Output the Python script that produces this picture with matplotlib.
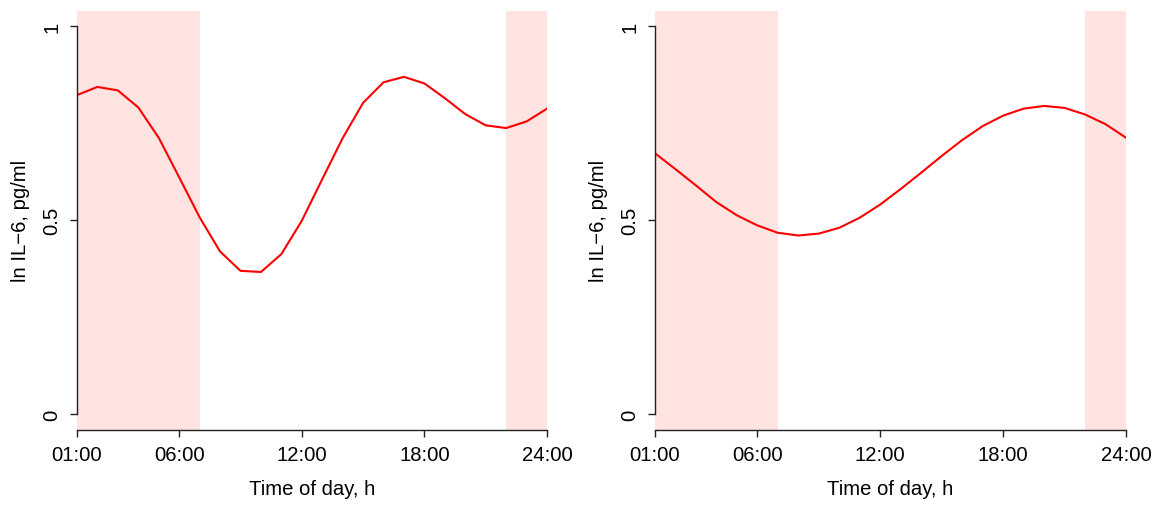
import numpy as np
import matplotlib
matplotlib.use("Agg")
import matplotlib.pyplot as plt

plt.rcParams['font.family'] = ['Liberation Sans', 'DejaVu Sans']

hours = np.arange(1, 25)

# ln IL-6 profile, panel 1
il6_left = [0.822, 0.843, 0.834, 0.790, 0.712, 0.610, 0.507, 0.419, 0.369, 0.366,
            0.412, 0.498, 0.605, 0.711, 0.802, 0.855, 0.869, 0.852, 0.814, 0.773,
            0.744, 0.737, 0.754, 0.787]
# ln IL-6 profile, panel 2
il6_right = [0.672, 0.631, 0.589, 0.546, 0.512, 0.486, 0.467, 0.460, 0.465, 0.480,
             0.506, 0.540, 0.580, 0.622, 0.665, 0.706, 0.742, 0.769, 0.787, 0.794,
             0.789, 0.772, 0.747, 0.712]

night_spans = [(1, 7), (22, 24)]
x_ticks = [1, 6, 12, 18, 24]
x_labels = ["01:00", "06:00", "12:00", "18:00", "24:00"]
y_ticks = [0, 0.5, 1]
y_labels = ["0", "0.5", "1"]

fig = plt.figure(figsize=(11.58, 5.06), dpi=100)
W, H = 1158.0, 506.0

def r_panel(rect, vals):
    ax = fig.add_axes(rect)
    for a, b in night_spans:
        ax.axvspan(a, b, color='#ffe4e1', lw=0, zorder=0)
    ax.plot(hours, vals, color='red', lw=1.5, zorder=2)
    ax.set_xlim(1, 24)
    ax.set_ylim(-0.04, 1.04)
    ax.spines['top'].set_visible(False)
    ax.spines['right'].set_visible(False)
    ax.spines['left'].set_bounds(0, 1)
    ax.spines['bottom'].set_bounds(1, 24)
    for s in ('left', 'bottom'):
        ax.spines[s].set_color('#222222')
        ax.spines[s].set_linewidth(1.0)
    ax.set_xticks(x_ticks)
    ax.set_xticklabels(x_labels)
    ax.set_yticks(y_ticks)
    ax.set_yticklabels(y_labels, rotation=90, va='center')
    ax.tick_params(direction='out', length=5, width=1.0, color='#222222',
                   labelsize=14.6)
    ax.tick_params(axis='x', pad=6.5)
    ax.tick_params(axis='y', pad=6)
    ax.set_xlabel("Time of day, h", fontsize=14.6, labelpad=10.5)
    ax.set_ylabel("ln IL\u22126, pg/ml", fontsize=14.6, labelpad=9)
    return ax

bottom = (H - 430.5) / H
height = (430.5 - 11.5) / H
r_panel([77 / W, bottom, 470 / W, height], il6_left)
r_panel([655 / W, bottom, 471 / W, height], il6_right)

fig.savefig("out.png", dpi=100)
